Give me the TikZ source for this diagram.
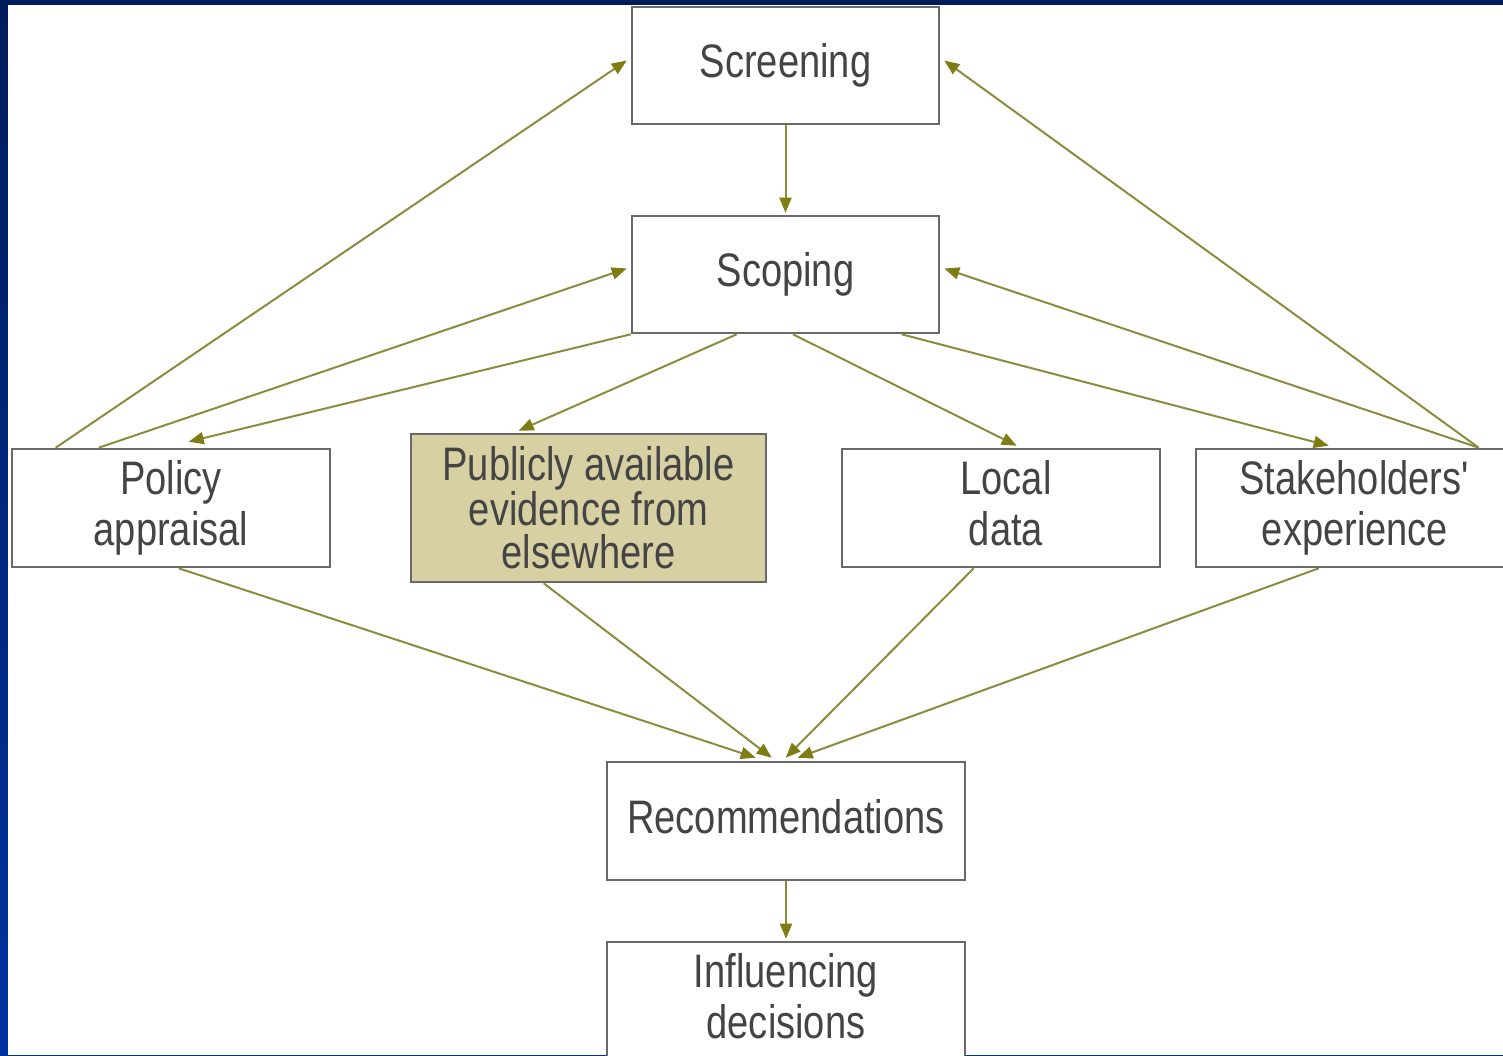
\documentclass[tikz,border=0pt]{standalone}
\usepackage{fontspec}
\setmainfont{Liberation Sans}[FakeStretch=0.81]
\usetikzlibrary{arrows.meta,calc}
\definecolor{framebluetop}{RGB}{0,28,90}
\definecolor{frameblubot}{RGB}{0,50,160}
\definecolor{boxline}{RGB}{105,105,105}
\definecolor{boxtext}{RGB}{68,68,68}
\definecolor{evidfill}{RGB}{214,208,163}
\definecolor{flowline}{RGB}{140,140,62}
\definecolor{flowhead}{RGB}{125,125,20}
\begin{document}
\begin{tikzpicture}[x=1pt,y=-1pt,
  stagebox/.style={draw=boxline,line width=2.6pt,fill=white,inner sep=0pt,
    text=boxtext,font=\fontsize{47}{51}\selectfont,align=center,
    minimum width=318pt,minimum height=118pt},
  flow/.style={draw=flowline,line width=2pt,
    -{Triangle[length=15pt,width=12pt,fill=flowhead,color=flowhead]}}]
% frame and page
\clip (0,0) rectangle (1503,1055);
\shade[top color=framebluetop,bottom color=frameblubot] (0,0) rectangle (1503,1055);
\fill[white] (8,5) rectangle (1503,1055);
% stages
\node[stagebox,minimum width=307pt,minimum height=117pt] (screen) at (785.5,65.5) {Screening};
\node[stagebox,minimum width=307pt,minimum height=117pt] (scope) at (785.5,274.5) {Scoping};
\node[stagebox] (policy) at (171,508) {Policy\\appraisal};
\node[stagebox,fill=evidfill,minimum width=355pt,minimum height=148pt,
  font=\fontsize{47}{43}\selectfont] (public) at (588.5,508) {Publicly available\\evidence from\\elsewhere};
\node[stagebox] (local) at (1001,508) {\hspace*{10pt}Local\\\hspace*{10pt}data\vphantom{p}};
\node[stagebox] (stake) at (1355,508) {Stakeholders\textquotesingle\\experience};
\node[stagebox,minimum width=358pt] (recs) at (786,821) {Recommendations\vphantom{g}};
\node[stagebox,minimum width=358pt] (infl) at (786,1001) {Influencing\\decisions\vphantom{p}};
% connectors
\draw[flow] (screen.south) -- ($(scope.north)+(0,-2)$);
\draw[flow] ($(policy.north west)+(45,0)$) -- ($(screen.west)+(-4,-5)$);
\draw[flow] ($(policy.north west)+(88,0)$) -- ($(scope.west)+(-4,-6)$);
\draw[flow] (scope.south west) -- ($(policy.north west)+(178,-6)$);
\draw[flow] ($(scope.south west)+(106,0)$) -- ($(public.north west)+(109,-2)$);
\draw[flow] ($(scope.south)+(7.5,0)$) -- ($(local.north west)+(176,-2)$);
\draw[flow] ($(scope.south west)+(271,0)$) -- ($(stake.north west)+(134,-2)$);
\draw[flow] ($(stake.north west)+(284,0)$) -- ($(scope.east)+(4,-6)$);
\draw[flow] ($(stake.north west)+(284,0)$) -- ($(screen.east)+(4,-5)$);
\draw[flow] ($(policy.south west)+(168,0)$) -- ($(recs.north west)+(150,-3)$);
\draw[flow] ($(public.south west)+(134,0)$) -- ($(recs.north west)+(166,-3)$);
\draw[flow] ($(local.south west)+(133,0)$) -- ($(recs.north west)+(180,-3)$);
\draw[flow] ($(stake.south west)+(124,0)$) -- ($(recs.north west)+(192,-3)$);
\draw[flow] (recs.south) -- ($(infl.north)+(0,-2)$);
\end{tikzpicture}
\end{document}
